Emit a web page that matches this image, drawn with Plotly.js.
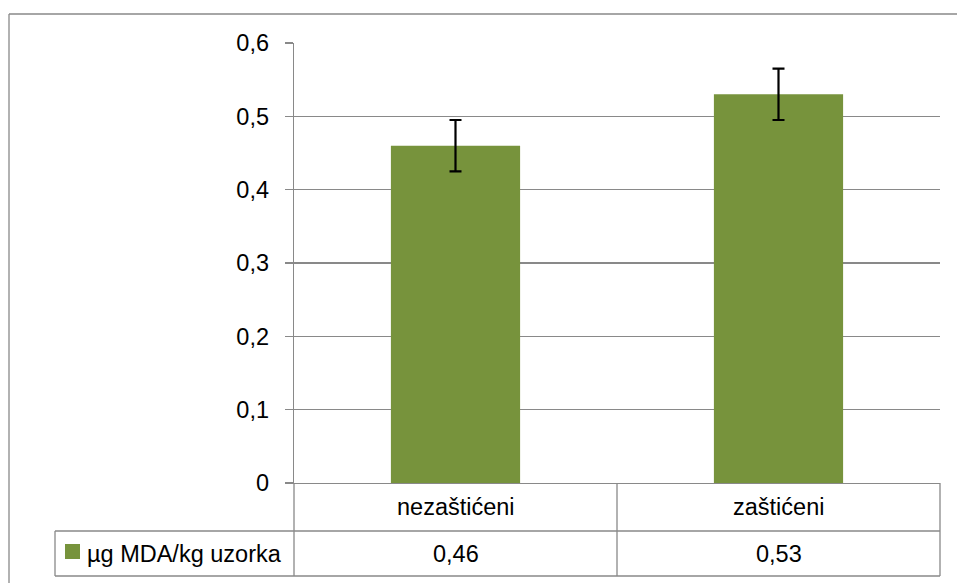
<!DOCTYPE html>
<html>
<head>
<meta charset="utf-8">
<script src="https://cdn.plot.ly/plotly-3.0.1.min.js"></script>
<style>html,body{margin:0;padding:0;background:#fff;}#chart{width:957px;height:583px;}</style>
</head>
<body>
<div id="chart"></div>
<script>
const categories = ['nezaštićeni', 'zaštićeni'];
const values = [0.46, 0.53];
const errors = [0.035, 0.035];
const seriesName = 'µg MDA/kg uzorka';
const yTicks = [0, 0.1, 0.2, 0.3, 0.4, 0.5, 0.6];
const yTickLabels = ['0', '0,1', '0,2', '0,3', '0,4', '0,5', '0,6'];

const GREEN = '#77933C';
const GRAY = '#898989';
const FONT = 'Liberation Sans, Arial, sans-serif';
const FS = 23.5;

// plot area in pixels: x 294..940, y 43..483
const W = 957, H = 583;
const L = 294, R = 940, T = 43, B = 483;
const px2x = p => (p - L) / (R - L);
const py2y = p => (B - p) / (B - T);

const row1 = py2y(531), row2 = py2y(576);
const legL = px2x(55);

function line(x0, y0, x1, y1) {
  return {type: 'line', xref: 'paper', yref: 'paper', x0, y0, x1, y1,
          line: {color: GRAY, width: 1.3}, layer: 'above'};
}

const shapes = [
  // outer chart border
  line(px2x(9), py2y(14), px2x(970), py2y(14)),
  line(px2x(9), py2y(14), px2x(9), py2y(600)),
  // data table
  line(0, 0, 0, row2),
  line(0.5, 0, 0.5, row2),
  line(1, 0, 1, row2),
  line(legL, row1, 1, row1),
  line(legL, row2, 1, row2),
  line(legL, row1, legL, row2),
  // legend key
  {type: 'rect', xref: 'paper', yref: 'paper',
   x0: px2x(65), x1: px2x(80), y0: py2y(544), y1: py2y(559),
   fillcolor: GREEN, line: {width: 0}}
];

const annotations = [];
categories.forEach((c, i) => {
  annotations.push({x: c, xref: 'x', y: py2y(507), yref: 'paper', text: c,
    showarrow: false, font: {family: FONT, size: FS, color: '#000'}, xanchor: 'center', yanchor: 'middle'});
  annotations.push({x: c, xref: 'x', y: py2y(553.5), yref: 'paper',
    text: values[i].toFixed(2).replace('.', ','),
    showarrow: false, font: {family: FONT, size: FS, color: '#000'}, xanchor: 'center', yanchor: 'middle'});
});
annotations.push({x: px2x(85), xref: 'paper', y: py2y(553.5), yref: 'paper', text: seriesName,
  showarrow: false, font: {family: FONT, size: FS, color: '#000'}, xanchor: 'left', yanchor: 'middle'});

const trace = {
  type: 'bar', x: categories, y: values, name: seriesName,
  marker: {color: GREEN},
  error_y: {type: 'data', array: errors, visible: true, color: '#000', thickness: 2.2, width: 6}
};

const layout = {
  width: W, height: H,
  margin: {l: L, r: W - R, t: T, b: H - B, pad: 0},
  paper_bgcolor: '#fff', plot_bgcolor: '#fff',
  showlegend: false,
  bargap: 0.6,
  separators: ', ',
  font: {family: FONT, size: FS, color: '#000'},
  xaxis: {type: 'category', showticklabels: false, showgrid: false, zeroline: false,
          showline: true, linecolor: GRAY, linewidth: 1.3, ticks: '', fixedrange: true},
  yaxis: {range: [0, 0.6], tickvals: yTicks, ticktext: yTickLabels,
          showgrid: true, gridcolor: GRAY, gridwidth: 1.3, zeroline: false,
          showline: true, linecolor: GRAY, linewidth: 1.3,
          ticks: 'outside', ticklen: 8, tickcolor: GRAY, tickwidth: 1.3,
          ticklabelstandoff: 11,
          tickfont: {family: FONT, size: FS, color: '#000'}},
  shapes, annotations
};

Plotly.newPlot('chart', [trace], layout, {staticPlot: true, displayModeBar: false});
</script>
</body>
</html>
